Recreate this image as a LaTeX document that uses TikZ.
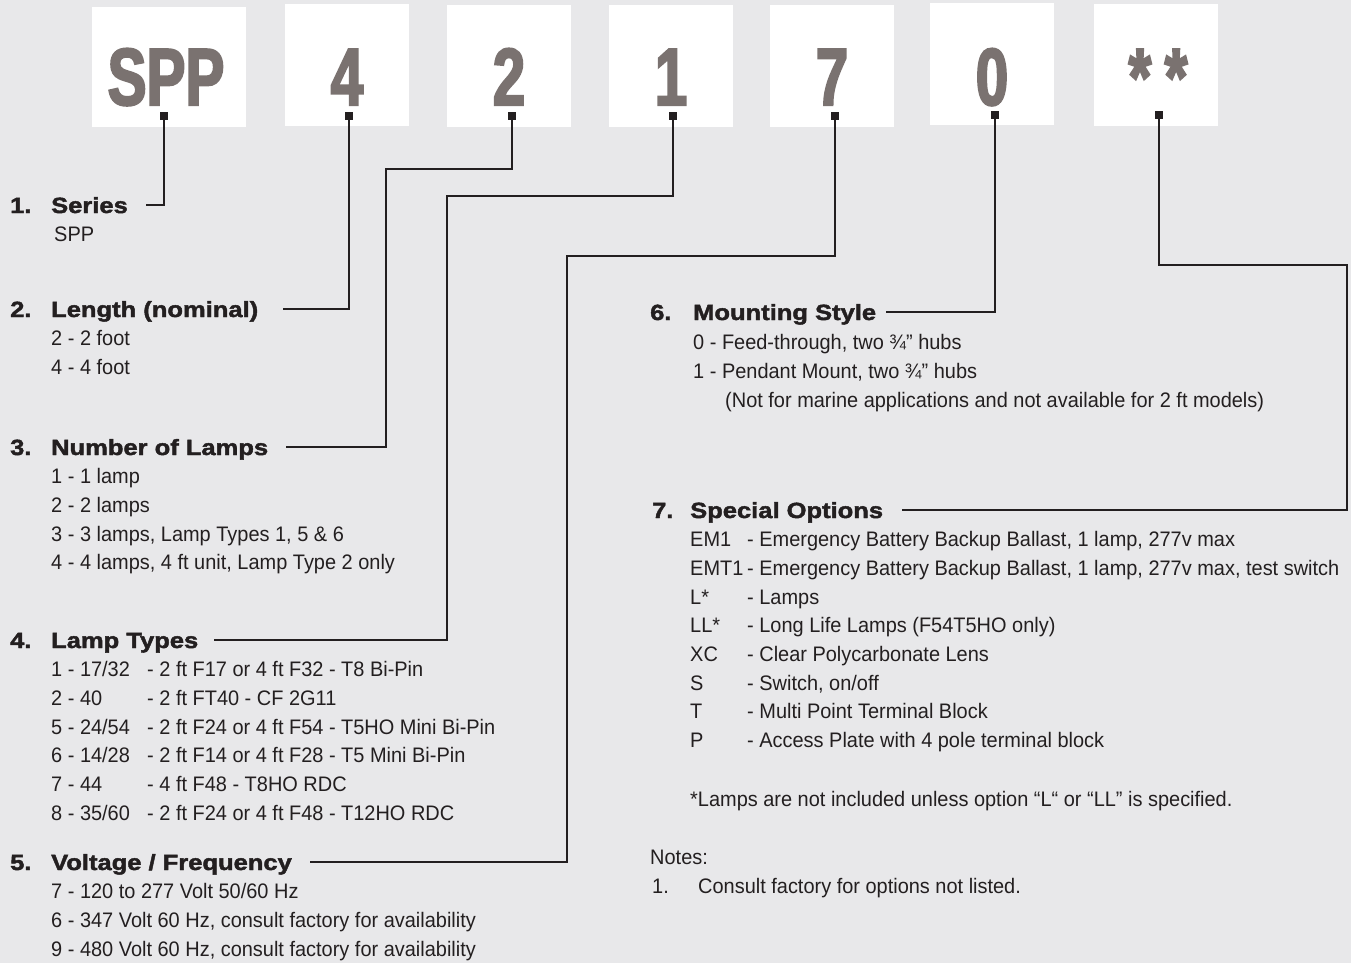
\documentclass[tikz,border=0pt]{standalone}
\usepackage{fontspec}
\setmainfont{Liberation Sans}[FakeStretch=0.95]
\newfontfamily\headfont{Liberation Sans}[FakeStretch=1.16, FakeBold=2]
\newfontfamily\bigfont{Liberation Sans}[FakeStretch=0.72, FakeBold=2.5]
\usetikzlibrary{positioning}
\definecolor{bg}{RGB}{232,232,234}
\definecolor{ink}{RGB}{35,31,32}
\definecolor{digit}{RGB}{122,114,112}

\begin{document}
\begin{tikzpicture}[x=1pt, y=-1pt,
  box/.style={fill=white, minimum width=124pt, minimum height=122pt, inner sep=0pt},
  code/.style={anchor=base, font=\bigfont\bfseries\fontsize{81}{81}\selectfont, text=digit, inner sep=0pt},
  dot/.style={fill=ink, minimum size=8pt, inner sep=0pt},
  head/.style={anchor=base west, font=\headfont\bfseries\fontsize{22}{24}\selectfont, text=ink, text height=16pt, text depth=0pt, inner sep=0pt},
  item/.style={anchor=base west, font=\fontsize{21}{24}\selectfont, text=ink, inner sep=0pt},
  link/.style={draw=ink, line width=2.8pt}]
\fill[bg] (0,0) rectangle (1351,963);
\useasboundingbox (0,0) rectangle (1351,963);

% code boxes
\node[box, minimum width=154pt, minimum height=120pt] (bS) at (169,67) {};
\node[box] (b4) at (347,65) {};
\node[box] (b2) at (509,66) {};
\node[box] (b1) at (671,66) {};
\node[box] (b7) at (832,66) {};
\node[box] (b0) at (992,64) {};
\node[box] (bx) at (1156,65) {};
\node[code] (cS) at (166,105) {SPP};
\node[code] (c4) at (347,105) {4};
\node[code] (c2) at (509,105) {2};
\node[code] (c1) at (671,105) {1};
\node[code] (c7) at (832,105) {7};
\node[code] (c0) at (992,105) {0};
\node[code] (cx) at (1158,105) {*\,*};
\node[dot] (d1) at (164,116) {};
\node[dot] (d2) at (349,116) {};
\node[dot] (d3) at (512,116) {};
\node[dot] (d4) at (673,116) {};
\node[dot] (d5) at (835,116) {};
\node[dot] (d6) at (995,115) {};
\node[dot] (d7) at (1159,115) {};

% left column
\node[head] (h1) at (10,213) {\makebox[41pt][l]{1.}Series};
\node[item] (s1) at (54,241) {SPP};
\node[head] (h2) at (10,317) {\makebox[41pt][l]{2.}Length (nominal)};
\foreach \t [count=\i] in {{2 - 2 foot},{4 - 4 foot}}
  \node[item] (len\i) at (51,{317+\i*28.7}) {\t};
\node[head] (h3) at (10,455) {\makebox[41pt][l]{3.}Number of Lamps};
\foreach \t [count=\i] in {{1 - 1 lamp},{2 - 2 lamps},{3 - 3 lamps, Lamp Types 1, 5 \& 6},{4 - 4 lamps, 4 ft unit, Lamp Type 2 only}}
  \node[item] (num\i) at (51,{455+\i*28.7}) {\t};
\node[head] (h4) at (10,648) {\makebox[41pt][l]{4.}Lamp Types};
\foreach \a/\b [count=\i] in {{1 - 17/32}/{- 2 ft F17 or 4 ft F32 - T8 Bi-Pin}, {2 - 40}/{- 2 ft FT40 - CF 2G11},
    {5 - 24/54}/{- 2 ft F24 or 4 ft F54 - T5HO Mini Bi-Pin}, {6 - 14/28}/{- 2 ft F14 or 4 ft F28 - T5 Mini Bi-Pin},
    {7 - 44}/{- 4 ft F48 - T8HO RDC}, {8 - 35/60}/{- 2 ft F24 or 4 ft F48 - T12HO RDC}}
  \node[item] (typ\i) at (51,{648+\i*28.7}) {\makebox[96pt][l]{\a}\b};
\node[head] (h5) at (10,870) {\makebox[41pt][l]{5.}Voltage / Frequency};
\foreach \t [count=\i] in {{7 - 120 to 277 Volt 50/60 Hz},{6 - 347 Volt 60 Hz, consult factory for availability},{9 - 480 Volt 60 Hz, consult factory for availability}}
  \node[item] (vol\i) at (51,{870+\i*28.7}) {\t};

% right column
\node[head] (h6) at (650,320) {\makebox[43pt][l]{6.}Mounting Style};
\node[item] (mnt1) at (693,349) {0 - Feed-through, two ¾” hubs};
\node[item] (mnt2) at (693,378) {1 - Pendant Mount, two ¾” hubs};
\node[item] (mnt3) at (725,407) {(Not for marine applications and not available for 2 ft models)};
\node[head] (h7) at (652,518) {\makebox[38pt][l]{7.}Special Options};
\foreach \a/\b [count=\i] in {EM1/{- Emergency Battery Backup Ballast, 1 lamp, 277v max},
    EMT1/{- Emergency Battery Backup Ballast, 1 lamp, 277v max, test switch},
    L*/- Lamps, LL*/- Long Life Lamps (F54T5HO only), XC/- Clear Polycarbonate Lens,
    S/{- Switch, on\slash off}, T/- Multi Point Terminal Block, P/- Access Plate with 4 pole terminal block}
  \node[item] (opt\i) at (690,{518+\i*28.7}) {\makebox[57pt][l]{\a}\b};
\node[item] (foot) at (690,806) {*Lamps are not included unless option “L“ or “LL” is specified.};
\node[item] (notes) at (650,864) {Notes:};
\node[item] (note1) at (652,893) {\makebox[46pt][l]{1.}Consult factory for options not listed.};

% connectors
\draw[link] (d1.center) |- ([xshift=18pt]h1.east);
\draw[link] (d2.center) |- ([xshift=25pt]h2.east);
\draw[link] (d3.center) |- (386,169) |- ([xshift=18pt]h3.east);
\draw[link] (d4.center) |- (447,196) |- ([xshift=16pt]h4.east);
\draw[link] (d5.center) |- (567,256) |- ([xshift=18pt]h5.east);
\draw[link] (d6.center) |- ([xshift=10pt]h6.east);
\draw[link] (d7.center) |- (1347,265) |- ([xshift=19pt]h7.east);
\end{tikzpicture}
\end{document}
